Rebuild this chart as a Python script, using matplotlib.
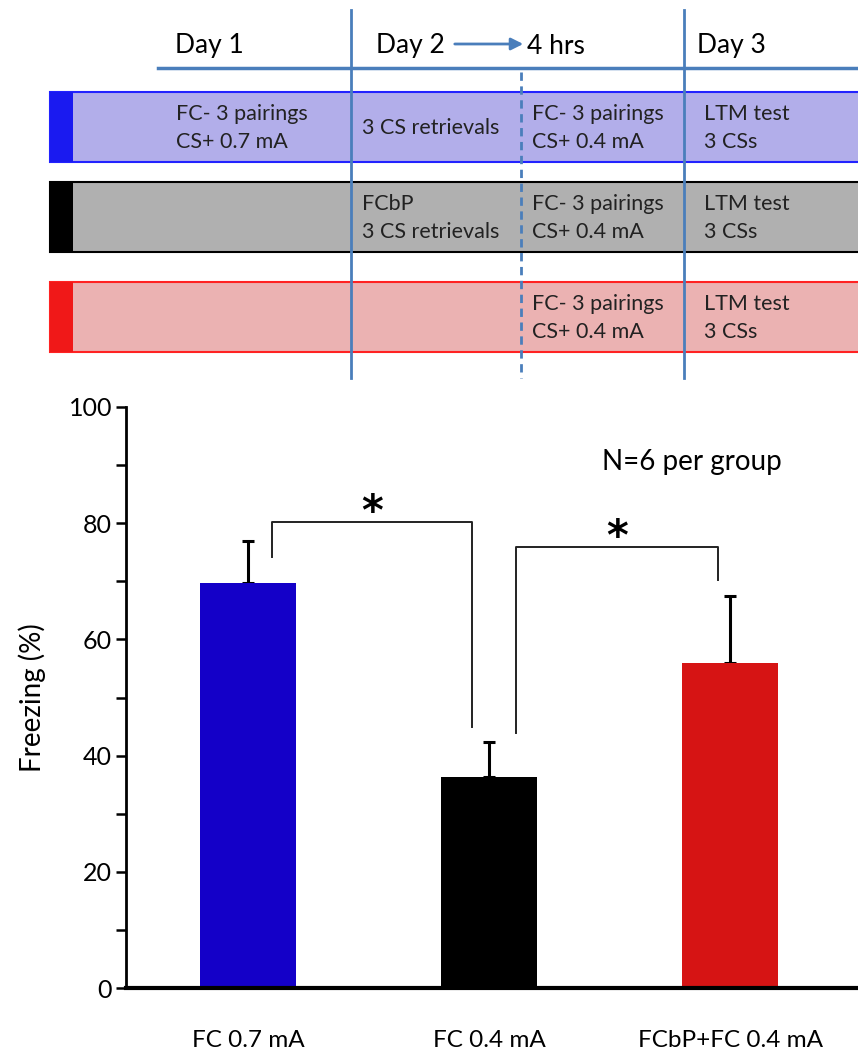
import numpy as np
import matplotlib.pyplot as plt
from matplotlib.patches import Rectangle

plt.rcParams['font.family'] = ['Lato', 'DejaVu Sans']

# bar chart data
groups = ['FC 0.7 mA', 'FC 0.4 mA', 'FCbP+FC 0.4 mA']
freezing = [69.7, 36.3, 55.9]
sem = [7.2, 6.0, 11.6]
bar_colors = ['#1400c8', '#000000', '#d61414']

# significance brackets: (bar a, bar b, top, end at a, end at b)
brackets = [(0, 1, 80.2, 74.2, 44.9),
            (1, 2, 75.9, 43.9, 70.2)]

# protocol schematic
day_labels = ['Day 1', 'Day 2', '4 hrs', 'Day 3']
row_fill = ['#b2aeea', '#b0b0b0', '#ebb2b2']
row_edge = ['#2222ff', '#000000', '#ff2222']
row_mark = ['#1a1af0', '#000000', '#f01818']
row_text = [
    [('FC- 3 pairings\nCS+ 0.7 mA', 0), ('3 CS retrievals', 1), ('FC- 3 pairings\nCS+ 0.4 mA', 2), ('LTM test\n3 CSs', 3)],
    [('FCbP\n3 CS retrievals', 1), ('FC- 3 pairings\nCS+ 0.4 mA', 2), ('LTM test\n3 CSs', 3)],
    [('FC- 3 pairings\nCS+ 0.4 mA', 2), ('LTM test\n3 CSs', 3)],
]

fig = plt.figure(figsize=(8.58, 10.57), dpi=100)

# ---- schematic, drawn in pixel units of the figure
dg = fig.add_axes([0, 0, 1, 1])
dg.set_xlim(0, 858)
dg.set_ylim(1057, 0)
dg.axis('off')

line_c = '#4a7ebb'
col_x = [176, 362, 532, 704]      # text columns
row_top = [92, 182, 282]
row_h = 70

for i in range(3):
    dg.add_patch(Rectangle((50, row_top[i]), 820, row_h, facecolor=row_fill[i],
                           edgecolor=row_edge[i], lw=1.5, zorder=1))
    dg.add_patch(Rectangle((50, row_top[i]), 23, row_h, facecolor=row_mark[i],
                           edgecolor='none', zorder=2))
    for txt, c in row_text[i]:
        dg.text(col_x[c], row_top[i] + row_h / 2 + 1, txt, fontsize=15.5, color='#222222',
                va='center', ha='left', linespacing=1.55, zorder=4)

dg.plot([158, 858], [68, 68], color=line_c, lw=2.5, zorder=3)
for xv in [351, 684]:
    dg.plot([xv, xv], [10, 378], color=line_c, lw=2, zorder=3)
dg.plot([521, 521], [72, 378], color=line_c, lw=2, ls=(0, (3, 2)), zorder=3)

for lbl, xl in zip(day_labels, [175, 376, 527, 697]):
    dg.text(xl, 46, lbl, fontsize=19, va='center', ha='left')
dg.annotate('', xy=(526, 44), xytext=(452, 44),
            arrowprops=dict(arrowstyle='-|>', color=line_c, lw=2, mutation_scale=18))

# ---- bar chart
ax = fig.add_axes([126 / 858, (1057 - 988) / 1057, (858 - 126) / 858, (988 - 407) / 1057])
x = np.arange(len(groups))
ax.bar(x, freezing, width=0.4, color=bar_colors, zorder=2)
ax.errorbar(x, freezing, yerr=[np.zeros(len(sem)), sem], fmt='none', ecolor='black',
            elinewidth=2.2, capsize=4.5, capthick=2.2, zorder=1)

for a, b, top, ya, yb in brackets:
    xa = a + 0.1 if a == 0 else a + 0.11
    xb = b - 0.07 if b == 1 else b - 0.05
    ax.plot([xa, xa, xb, xb], [ya, top, top, yb], color='#222222', lw=1.4)
    ax.text((xa + xb) / 2, top + 1.6, '*', fontsize=30, fontweight='bold',
            family='DejaVu Sans', ha='center', va='center')

ax.text(1.84, 90.5, 'N=6 per group', fontsize=20, ha='center', va='center')

ax.set_xlim(-0.506, 2.531)
ax.set_ylim(0, 100)
ax.set_yticks(np.arange(0, 101, 20))
ax.set_yticks(np.arange(10, 100, 20), minor=True)
ax.tick_params(axis='y', which='both', direction='out', length=7, width=1.8, labelsize=18, pad=3)
ax.tick_params(axis='x', length=0, labelsize=17.5, pad=30)
ax.set_xticks(x)
ax.set_xticklabels(groups)
ax.set_ylabel('Freezing (%)', fontsize=20, labelpad=16)
ax.spines['top'].set_visible(False)
ax.spines['right'].set_visible(False)
ax.spines['left'].set_linewidth(2)
ax.spines['bottom'].set_linewidth(3)
ax.patch.set_alpha(0)

fig.savefig('out.png', dpi=100)
